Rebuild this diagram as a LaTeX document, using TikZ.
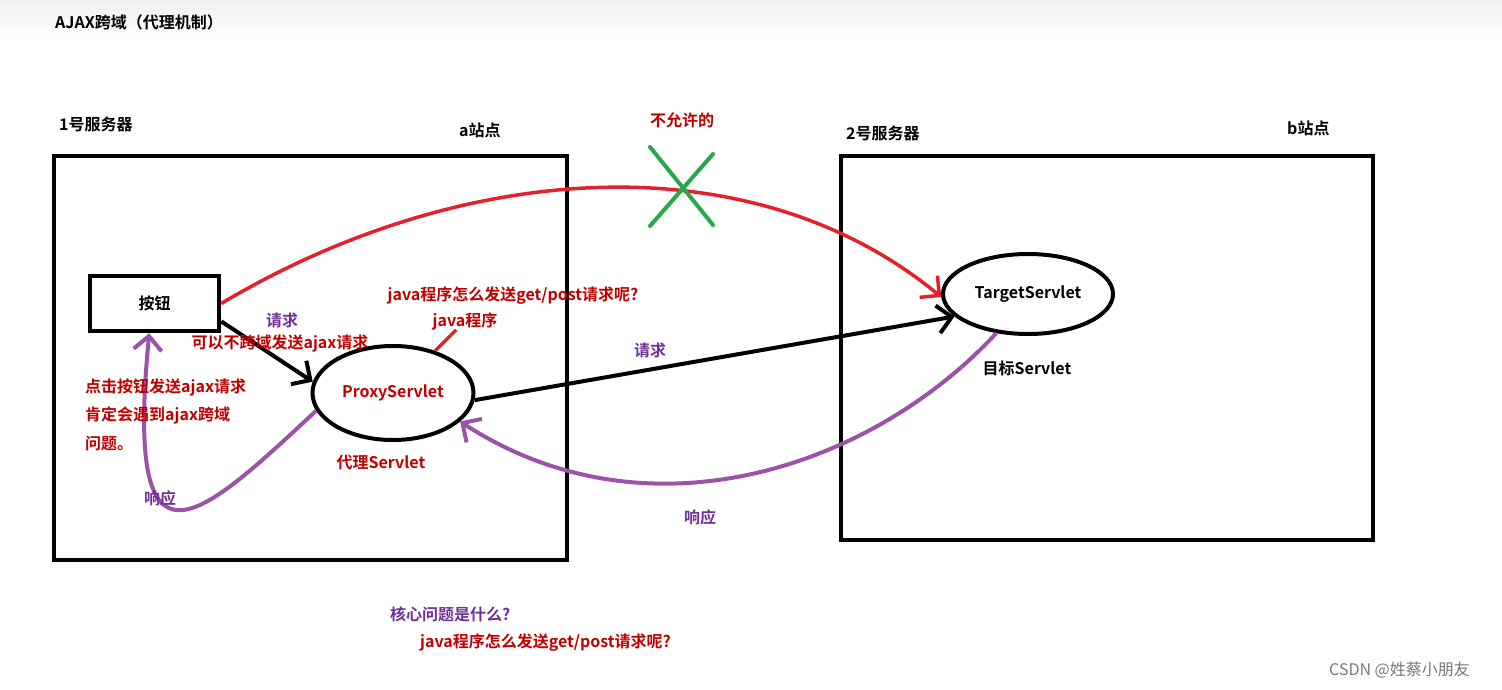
\documentclass[tikz,border=0pt]{standalone}
\usepackage{fontspec}
\setmainfont{Noto Sans CJK SC}[BoldFont={Noto Sans CJK SC Bold}]
\usepackage{tikz}
\usetikzlibrary{shapes.geometric, arrows.meta, positioning, calc}
\definecolor{myred}{RGB}{228,32,40}
\definecolor{mytxtred}{RGB}{192,0,0}
\definecolor{mypurple}{RGB}{155,82,168}
\definecolor{mytxtpurple}{RGB}{112,48,150}
\definecolor{mygreen}{RGB}{40,168,72}
\definecolor{mygray}{RGB}{120,120,120}
\tikzset{
  serverbox/.style={rectangle, draw=black, line width=4.5pt},
  btnbox/.style={rectangle, draw=black, line width=4.5pt,
    minimum width=129, minimum height=55, text=black},
  servlet/.style={ellipse, draw=black, line width=4pt},
  redlbl/.style={text=mytxtred},
  purplelbl/.style={text=mytxtpurple},
  barb/.style={-{Straight Barb[length=14pt, width=28pt]}},
  arrow/.style={barb, line width=4pt, color=black},
  redarrow/.style={barb, line width=3.5pt, color=myred},
  resparrow/.style={barb, line width=4pt, color=mypurple},
  cross/.style={line width=4pt, color=mygreen, line cap=round}
}

\begin{document}
\begin{tikzpicture}[x=1pt, y=-1pt,
  every node/.style={font=\fontsize{16}{19}\selectfont\bfseries, inner sep=1pt}]
  \useasboundingbox (0,0) rectangle (1502,690);
  \shade[top color=black!6, bottom color=white] (0,0) rectangle (1502,40);

  % headings
  \node[anchor=west] (title) at (54,22) {AJAX跨域（代理机制）};
  \node[anchor=west] (srv1) at (58,124) {1号服务器};
  \node[anchor=west] (siteA) at (458,130) {a站点};
  \node[anchor=west] (srv2) at (845,133) {2号服务器};
  \node[anchor=west] (siteB) at (1286,128) {b站点};

  % the two servers
  \node[serverbox, minimum width=513, minimum height=404] (hostA) at (310.5,358) {};
  \node[serverbox, minimum width=532, minimum height=384] (hostB) at (1107,348) {};

  \node[btnbox] (btn) at (154.5,303.5) {按钮};
  \node[servlet, minimum width=161, minimum height=94, text=mytxtred] (proxy) at (393,393) {ProxyServlet};
  \node[servlet, minimum width=170, minimum height=80] (target) at (1028,294) {TargetServlet};
  \node[redlbl] (proxyLbl) at (381,462) {代理Servlet};
  \node (targetLbl) at (1027,368) {目标Servlet};

  % direct call (blocked)
  \draw[redarrow] (btn.east) .. controls +(240,-143) and +(-190,-157) .. (target.182);
  \coordinate (deny) at (681,187);
  \draw[cross] ($(deny)+(-31,-40)$) -- ($(deny)+(32,38)$);
  \draw[cross] ($(deny)+(32,-33)$) -- ($(deny)+(-31,39)$);
  \node[redlbl] (denyLbl) at (682,120) {不允许的};

  % requests
  \draw[arrow] (btn.-15) -- (proxy.172);
  \draw[arrow] (proxy.-5) -- (target.197);
  \node[purplelbl] (req1) at (282,320) {请求};
  \node[redlbl] (sameOrigin) at (280,343) {可以不跨域发送ajax请求};
  \node[purplelbl] (req2) at (650,350) {请求};

  % responses
  \draw[resparrow] (target.231) .. controls +(-123,133) and +(189,123) .. (proxy.-23);
  \draw[resparrow] (proxy.193) .. controls +(-118,110) and +(-25,257) .. (btn.260);
  \node[purplelbl] (resp1) at (160,498) {响应};
  \node[purplelbl] (resp2) at (700,517) {响应};

  % notes
  \node[redlbl] (javaQ) at (513,296) {java程序怎么发送get/post请求呢?};
  \node[redlbl] (javaP) at (465,321) {java程序};
  \draw[line width=3.5pt, color=myred] (proxy.45) -- ++(21,-21);
  \node[redlbl, anchor=west] (note1) at (84,387) {点击按钮发送ajax请求};
  \node[redlbl, anchor=west] (note2) at (84,415) {肯定会遇到ajax跨域};
  \node[redlbl, anchor=west] (note3) at (84,443) {问题。};
  \node[purplelbl, anchor=west] (core) at (389,614) {核心问题是什么?};
  \node[redlbl, anchor=west] (coreQ) at (419,643) {java程序怎么发送get/post请求呢?};

  \node[anchor=west, text=mygray, font=\fontsize{16}{19}\selectfont] (mark) at (1328,670) {CSDN @姓蔡小朋友};
\end{tikzpicture}
\end{document}
